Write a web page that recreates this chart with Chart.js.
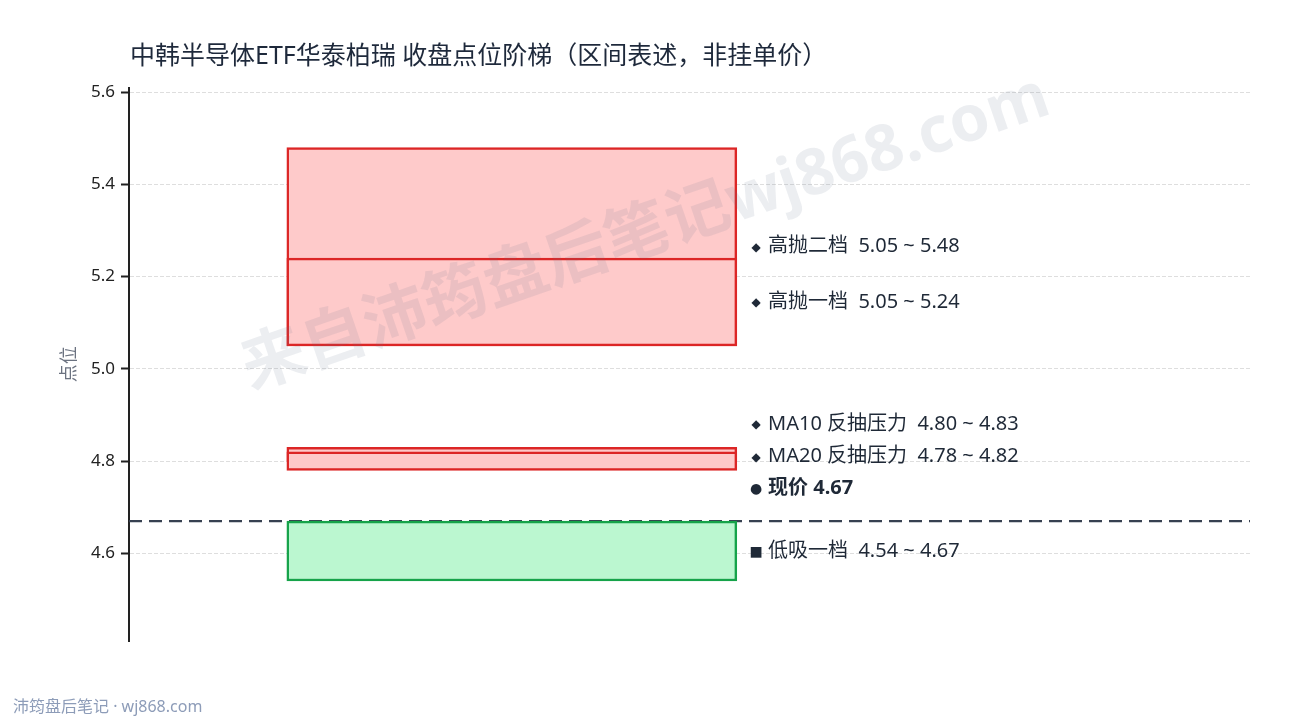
<!DOCTYPE html>
<html>
<head>
<meta charset="utf-8">
<script src="https://cdn.jsdelivr.net/npm/chart.js@4.4.1/dist/chart.umd.min.js"></script>
<style>
  html, body { margin: 0; padding: 0; background: #fff; }
  #wrap { width: 1290px; height: 720px; }
</style>
</head>
<body>
<div id="wrap"><canvas id="ladder"></canvas></div>
<script>
// price zones
var bandNames = ["高抛二档", "高抛一档", "MA10 反抽压力", "MA20 反抽压力", "低吸一档"];
var bandLow = [5.05, 5.05, 4.80, 4.78, 4.54];
var bandHigh = [5.48, 5.24, 4.83, 4.82, 4.67];
var bandSide = ["sell", "sell", "sell", "sell", "buy"];
var bandMarks = ["◆", "◆", "◆", "◆", "■"];

var lastPrice = 4.67;
var priceName = "现价";

var yTicks = [4.6, 4.8, 5.0, 5.2, 5.4, 5.6];
var yMin = 4.41;
var yMax = 5.61;

var chartTitle = "中韩半导体ETF华泰柏瑞 收盘点位阶梯（区间表述，非挂单价）";
var yTitle = "点位";
var footerText = "沛筠盘后笔记 · wj868.com";
var watermarkText = "来自沛筠盘后笔记wj868.com";

// boxes sit on a hidden 0..1 x axis
var bandX = 0.3415;
var bandSpan = 0.4;
var labelGap = 0.07;

var sideColors = {
  sell: { fill: "#fecaca", line: "#dc2626" },
  buy: { fill: "#bbf7d0", line: "#16a34a" }
};
var FONT = '"Noto Sans", "Noto Sans CJK SC", sans-serif';

var datasets = bandNames.map(function (name, i) {
  return {
    type: "bar",
    label: name,
    data: [{ x: bandX, y: [bandLow[i], bandHigh[i]] }],
    backgroundColor: sideColors[bandSide[i]].fill,
    borderColor: sideColors[bandSide[i]].line,
    borderWidth: 2.5,
    borderSkipped: false,
    barThickness: 450,
    grouped: false,
    order: -i
  };
});

datasets.push({
  type: "line",
  label: priceName,
  data: [{ x: 0, y: lastPrice }, { x: 1, y: lastPrice }],
  borderColor: "#374151",
  borderWidth: 2.4,
  borderDash: [13, 7],
  pointRadius: 0,
  order: 10
});

// right-hand labels, title, footer, watermark
var textPlugin = {
  id: "texts",
  afterDatasetsDraw: function (chart) {
    var ctx = chart.ctx;
    var x = chart.scales.x, y = chart.scales.y;

    var items = bandNames.map(function (name, i) {
      return {
        mark: bandMarks[i],
        text: name + "  " + bandLow[i].toFixed(2) + " ~ " + bandHigh[i].toFixed(2),
        v: (bandLow[i] + bandHigh[i]) / 2,
        bold: false
      };
    });
    items.push({ mark: "●", text: priceName + " " + lastPrice.toFixed(2), v: lastPrice + labelGap, bold: true });
    items.sort(function (a, b) { return a.v - b.v; });
    for (var i = 1; i < items.length; i++) {
      items[i].v = Math.max(items[i].v, items[i - 1].v + labelGap);
    }

    var xr = x.getPixelForValue(bandX + bandSpan / 2);
    ctx.save();
    ctx.fillStyle = "#1f2937";
    ctx.textBaseline = "middle";
    items.forEach(function (it) {
      var py = y.getPixelForValue(it.v);
      ctx.textAlign = "center";
      ctx.font = (it.mark === "◆" ? "12px" : "14px") + ' "DejaVu Sans"';
      ctx.fillText(it.mark, xr + 20, py + 1);
      ctx.textAlign = "left";
      ctx.font = (it.bold ? "bold " : "") + "20px " + FONT;
      ctx.fillText(it.text, xr + 32, py);
    });
    ctx.restore();
  },
  afterDraw: function (chart) {
    var ctx = chart.ctx;
    var area = chart.chartArea;
    ctx.save();
    ctx.textBaseline = "middle";

    ctx.fillStyle = "#1e293b";
    ctx.textAlign = "left";
    ctx.font = "25px " + FONT;
    ctx.fillText(chartTitle, area.left + 1, 57);

    ctx.fillStyle = "#8d9cb8";
    ctx.font = "16px " + FONT;
    ctx.fillText(footerText, 13, 707);

    ctx.save();
    ctx.translate(70, (area.top + area.bottom) / 2);
    ctx.rotate(-Math.PI / 2);
    ctx.textAlign = "center";
    ctx.fillStyle = "#6b7280";
    ctx.font = "18px " + FONT;
    ctx.fillText(yTitle, 0, 0);
    ctx.restore();

    ctx.save();
    ctx.translate(646, 234);
    ctx.rotate(-19 * Math.PI / 180);
    ctx.textAlign = "center";
    ctx.fillStyle = "rgba(100,116,139,0.12)";
    ctx.font = "bold 64px " + FONT;
    ctx.fillText(watermarkText, 0, 0);
    ctx.restore();

    ctx.restore();
  }
};

new Chart("ladder", {
  type: "bar",
  data: { datasets: datasets },
  options: {
    responsive: true,
    maintainAspectRatio: false,
    animation: false,
    layout: { padding: { top: 87.5, right: 40, bottom: 79, left: 0 } },
    plugins: {
      legend: { display: false },
      tooltip: { enabled: false }
    },
    scales: {
      x: {
        type: "linear",
        min: 0,
        max: 1,
        offset: false,
        display: false
      },
      y: {
        min: yMin,
        max: yMax,
        afterBuildTicks: function (s) {
          s.ticks = yTicks.map(function (v) { return { value: v }; });
        },
        afterFit: function (s) { s.width = 129; },
        ticks: {
          color: "#222",
          padding: 6,
          font: { size: 17, family: FONT },
          callback: function (v) { return Number(v).toFixed(1); }
        },
        grid: {
          color: "#dedede",
          lineWidth: 1,
          tickColor: "#222",
          tickLength: 8,
          tickWidth: 2
        },
        border: { display: true, color: "#222", width: 2, dash: [4, 2] }
      }
    }
  },
  plugins: [textPlugin]
});
</script>
</body>
</html>
